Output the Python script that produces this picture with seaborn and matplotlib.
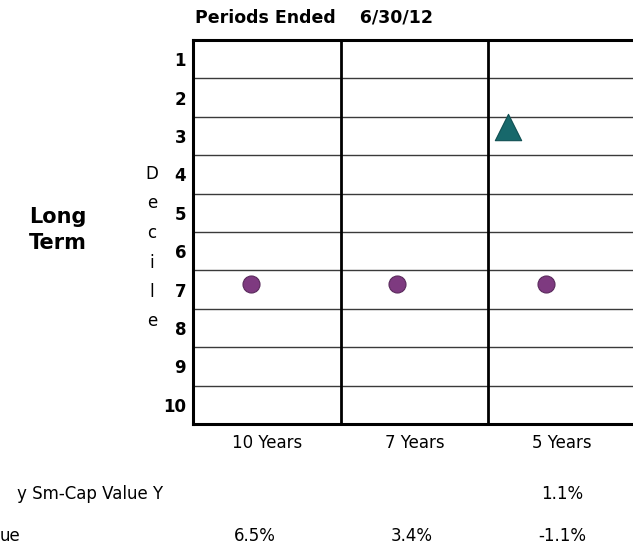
import matplotlib
matplotlib.use("Agg")
import matplotlib.pyplot as plt
import seaborn as sns
import pandas as pd

# ---- data ----
periods = ["10 Years", "7 Years", "5 Years"]
fund_decile = [None, None, 2.77]          # triangle (only 5 Years shown)
bench_decile = [6.85, 6.85, 6.85]         # circles
fund_offset = [0.0, 0.0, 0.13]            # position inside each period column
bench_offset = [0.39, 0.38, 0.39]
deciles = list(range(1, 11))

row_labels = ["y Sm-Cap Value Y", "ue"]
fund_returns = ["", "", "1.1%"]
bench_returns = ["6.5%", "3.4%", "-1.1%"]

sns.set_style("white")
plt.rcParams["font.family"] = ["DejaVu Sans"]
plt.rcParams["text.color"] = "black"
plt.rcParams["xtick.color"] = "black"
plt.rcParams["ytick.color"] = "black"

fig = plt.figure(figsize=(6.33, 5.49), dpi=100)
W, H = 633, 549
ax = fig.add_axes([193 / W, 1 - 424 / H, (636 - 193) / W, 384 / H])

# grid: decile rows and period columns
for y in range(1, 10):
    ax.axhline(y + 0.5, color="#3a3a3a", lw=1.0, zorder=1)
for x in range(1, 3):
    ax.axvline(x, color="black", lw=2.0, zorder=2)

pts = []
for i, p in enumerate(periods):
    if fund_decile[i] is not None:
        pts.append({"x": i + fund_offset[i], "decile": fund_decile[i], "kind": "fund"})
    pts.append({"x": i + bench_offset[i], "decile": bench_decile[i], "kind": "bench"})
df = pd.DataFrame(pts)

sns.scatterplot(data=df[df.kind == "bench"], x="x", y="decile", ax=ax, marker="o",
                s=150, color="#7e3a80", edgecolor="#5a2a5c", linewidth=0.8, zorder=4, legend=False)
sns.scatterplot(data=df[df.kind == "fund"], x="x", y="decile", ax=ax, marker="^",
                s=360, color="#17686b", edgecolor="#0f4f52", linewidth=0.8, zorder=4, legend=False)

ax.set_xlim(0, 3)
ax.set_ylim(10.5, 0.5)
ax.set_yticks(deciles)
ax.set_yticklabels([str(d) for d in deciles], fontsize=12, fontweight="bold")
ax.set_xticks([0.5, 1.5, 2.5])
ax.set_xticklabels(periods, fontsize=12)
ax.tick_params(axis="both", length=0, pad=5)
ax.tick_params(axis="x", pad=7)
ax.set_xlabel("")
ax.set_ylabel("")
for s in ax.spines.values():
    s.set_color("black")
    s.set_linewidth(2.2)

# titles and side labels
fig.text(195 / W, 1 - 18 / H, "Periods Ended    6/30/12", fontsize=12.5, fontweight="bold",
         ha="left", va="center")
fig.text(58 / W, 1 - 230 / H, "Long\nTerm", fontsize=15, fontweight="bold",
         ha="center", va="center", linespacing=1.35)
for k, ch in enumerate("Decile"):
    fig.text(152 / W, 1 - (174 + k * 29.5) / H, ch, fontsize=12, ha="center", va="center")

# returns table below the chart
col_x = [255, 412, 562]
fig.text(163 / W, 1 - 494 / H, row_labels[0], fontsize=12, ha="right", va="center")
fig.text(20 / W, 1 - 536 / H, row_labels[1], fontsize=12, ha="right", va="center")
for i in range(3):
    if fund_returns[i]:
        fig.text(col_x[i] / W, 1 - 494 / H, fund_returns[i], fontsize=12, ha="center", va="center")
    fig.text(col_x[i] / W, 1 - 536 / H, bench_returns[i], fontsize=12, ha="center", va="center")

fig.savefig("out.png", dpi=100, facecolor="white")
